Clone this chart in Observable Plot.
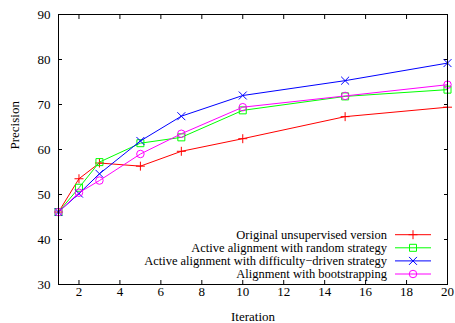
<!DOCTYPE html>
<html><head><meta charset="utf-8">
<script src="https://cdn.jsdelivr.net/npm/d3@7"></script>
<script src="https://cdn.jsdelivr.net/npm/@observablehq/plot@0.6"></script>
<style>body{margin:0;background:#fff}</style>
</head><body><div id="chart"></div>
<script>
const iterations = [1, 2, 3, 5, 7, 10, 15, 20];
const seriesNames = [
  "Original unsupervised version",
  "Active alignment with random strategy",
  "Active alignment with difficulty\u2212driven strategy",
  "Alignment with bootstrapping"
];
const originalValues = [46.1, 53.5, 57.0, 56.3, 59.6, 62.4, 67.3, 69.4];
const randomValues = [46.1, 51.5, 57.2, 61.4, 62.7, 68.7, 71.8, 73.3];
const difficultyValues = [46.1, 50.2, 54.6, 61.9, 67.4, 72.0, 75.3, 79.2];
const bootstrapValues = [46.1, 50.4, 53.1, 59.0, 63.5, 69.4, 71.9, 74.4];
const seriesColors = ["#ff0000", "#00ff00", "#0000ff", "#ff00ff"];
const seriesSymbols = ["plus", "square", "times", "circle"];
const symbolRadius = [3.0, 3.95, 3.7, 3.75];
const xTicks = [2, 4, 6, 8, 10, 12, 14, 16, 18, 20];
const yTicks = [30, 40, 50, 60, 70, 80, 90];

const allValues = [originalValues, randomValues, difficultyValues, bootstrapValues];
const rows = [];
allValues.forEach((vals, s) => {
  vals.forEach((v, i) => rows.push({series: seriesNames[s], idx: s, x: iterations[i], y: v}));
});

const font = "'Liberation Serif', 'Times New Roman', serif";
const d3Symbols = {plus: d3.symbolPlus, square: d3.symbolSquare, times: d3.symbolTimes, circle: d3.symbolCircle};

function legendMark(index, scales, values, dims) {
  const g = d3.create("svg:g")
    .attr("font-family", font)
    .attr("font-size", 12.5);
  const right = dims.width - dims.marginRight;
  const bottom = dims.height - dims.marginBottom;
  seriesNames.forEach((name, i) => {
    const y = bottom - 10 - (3 - i) * 13.1;
    g.append("text")
      .attr("x", right - 60).attr("y", y)
      .attr("dy", "0.35em")
      .attr("text-anchor", "end")
      .attr("fill", "black")
      .text(name);
    g.append("line")
      .attr("x1", right - 52).attr("x2", right - 16)
      .attr("y1", y).attr("y2", y)
      .attr("stroke", seriesColors[i]).attr("stroke-width", 1);
    g.append("path")
      .attr("transform", `translate(${right - 34},${y})`)
      .attr("d", d3.symbol(d3Symbols[seriesSymbols[i]], Math.PI * symbolRadius[i] ** 2)())
      .attr("fill", "none")
      .attr("stroke", seriesColors[i]).attr("stroke-width", 1);
  });
  return g.node();
}

const marks = [];
seriesNames.forEach((name, s) => {
  const data = rows.filter(d => d.idx === s);
  marks.push(Plot.line(data, {x: "x", y: "y", stroke: seriesColors[s], strokeWidth: 1}));
  marks.push(Plot.dot(data, {x: "x", y: "y", stroke: seriesColors[s], fill: "none", symbol: seriesSymbols[s], r: symbolRadius[s], strokeWidth: 1}));
});

const chart = Plot.plot({
  width: 455,
  height: 323,
  marginLeft: 58,
  marginRight: 8,
  marginTop: 14,
  marginBottom: 39,
  style: {fontFamily: font, fontSize: "13px", color: "black", background: "white"},
  x: {domain: [1, 20]},
  y: {domain: [30, 90]},
  marks: [
    Plot.axisX({ticks: xTicks, anchor: "bottom", tickSize: -4, fill: "none", label: null}),
    Plot.axisX({ticks: xTicks, anchor: "top", tickSize: -4, fill: "none", label: null}),
    Plot.axisY({ticks: yTicks, anchor: "left", tickSize: -4, fill: "none", label: null}),
    Plot.axisY({ticks: yTicks, anchor: "right", tickSize: -4, fill: "none", label: null}),
    Plot.axisX({ticks: xTicks, anchor: "bottom", tickSize: 0, tickPadding: 2, label: null, fontFamily: font, fontSize: 13}),
    Plot.axisY({ticks: yTicks, anchor: "left", tickSize: 0, tickPadding: 8, label: null, fontFamily: font, fontSize: 13}),
    Plot.text(["Iteration"], {frameAnchor: "bottom", dy: 32, lineAnchor: "middle", fill: "black", fontFamily: font, fontSize: 13}),
    Plot.text(["Precision"], {frameAnchor: "left", dx: -44, rotate: -90, lineAnchor: "middle", fill: "black", fontFamily: font, fontSize: 13}),
    ...marks,
    legendMark,
    Plot.frame({stroke: "black", strokeWidth: 1})
  ]
});
document.getElementById("chart").append(chart);
</script>
</body></html>
